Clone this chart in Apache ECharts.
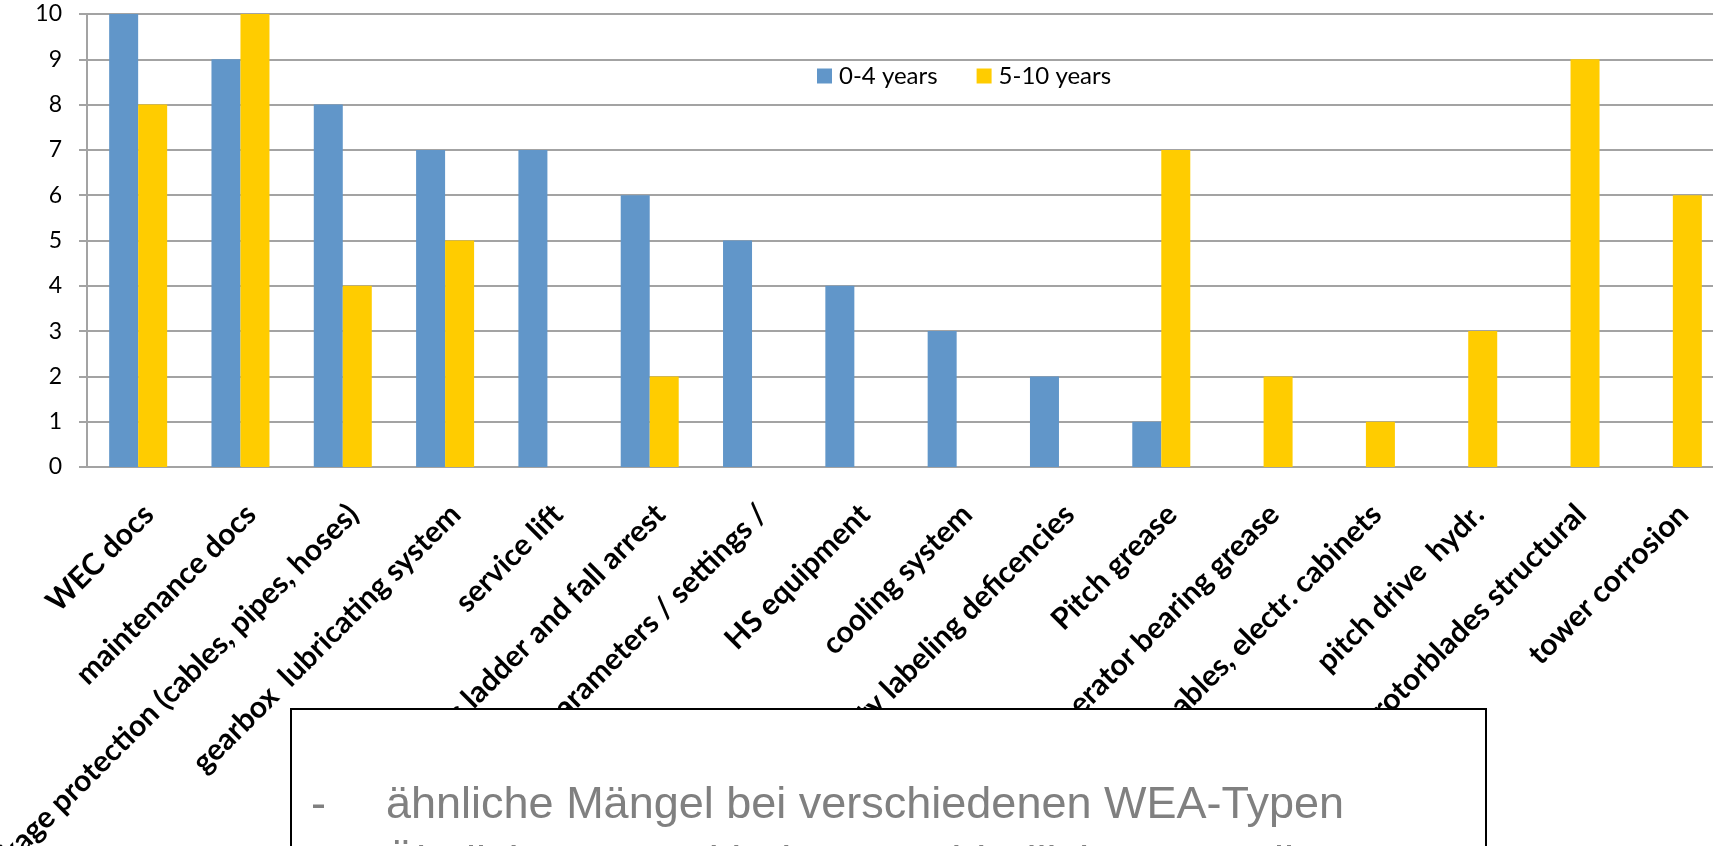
<!DOCTYPE html>
<html>
<head>
<meta charset="utf-8">
<script src="https://cdn.jsdelivr.net/npm/echarts@6/dist/echarts.min.js"></script>
<style>
  html, body { margin: 0; padding: 0; background: #fff; }
  #chart { width: 1713px; height: 846px; }
</style>
</head>
<body>
<div id="chart"></div>
<script>
// categories (hidden beginnings are covered by the text box)
var categories = [
    'WEC docs',
    'maintenance docs',
    'leakage protection (cables, pipes, hoses)',
    'gearbox  lubricating system',
    'service lift',
    'access ladder and fall arrest',
    'control parameters / settings /',
    'HS equipment',
    'cooling system',
    'safety labeling deficencies',
    'Pitch grease',
    'generator bearing grease',
    'cables, electr. cabinets',
    'pitch drive  hydr.',
    'rotorblades structural',
    'tower corrosion'
];
var seriesNames = ['0-4 years', '5-10 years'];
var young = [10, 9, 8, 7, 7, 6, 5, 4, 3, 2, 1, 0, 0, 0, 0, 0];
var old = [8, 10, 4, 5, 0, 2, 0, 0, 0, 0, 7, 2, 1, 3, 9, 6];
var yTicks = [0, 10, 1]; // min, max, interval
var boxLines = [
    'ähnliche Mängel bei verschiedenen WEA-Typen',
    'Ähnliche Mängel bei unterschiedlichen Betreibern?'
];

var chart = echarts.init(document.getElementById('chart'));
var grey = '#a3a3a3';
var boxFont = '45px "Liberation Sans", Arial, sans-serif';

var option = {
    animation: false,
    color: ['#6196c9', '#ffcc00'],
    grid: {
        left: 87,
        top: 14,
        width: 1637,
        height: 453,
        containLabel: false,
        outerBoundsMode: 'none'
    },
    legend: {
        data: seriesNames,
        left: 817,
        top: 64,
        padding: 0,
        icon: 'rect',
        itemWidth: 15,
        itemHeight: 15,
        itemGap: 39,
        textStyle: {
            fontFamily: 'Lato',
            fontSize: 24,
            color: '#000',
            padding: [0, 0, 0, 2]
        }
    },
    xAxis: {
        type: 'category',
        data: categories,
        axisLine: { lineStyle: { color: grey, width: 2 } },
        axisTick: { length: 9, lineStyle: { color: grey, width: 2 } },
        axisLabel: {
            interval: 0,
            rotate: 45,
            margin: 32,
            align: 'right',
            verticalAlign: 'top',
            fontFamily: 'Lato',
            fontWeight: 'bold',
            fontSize: 30,
            color: '#000'
        }
    },
    yAxis: {
        type: 'value',
        min: yTicks[0],
        max: yTicks[1],
        interval: yTicks[2],
        axisLine: { show: true, lineStyle: { color: grey, width: 2 } },
        axisTick: { show: true, length: 8, lineStyle: { color: grey, width: 2 } },
        splitLine: { lineStyle: { color: grey, width: 2 } },
        axisLabel: {
            margin: 25,
            fontFamily: 'Lato',
            fontSize: 23,
            color: '#000'
        }
    },
    series: [
        {
            name: seriesNames[0],
            type: 'bar',
            data: young,
            barWidth: 29,
            barGap: '0%'
        },
        {
            name: seriesNames[1],
            type: 'bar',
            data: old,
            barWidth: 29,
            barGap: '0%'
        }
    ],
    graphic: [
        {
            type: 'rect',
            z: 100,
            shape: { x: 291, y: 709, width: 1195, height: 200 },
            style: { fill: '#fff', stroke: '#000', lineWidth: 2 }
        },
        {
            type: 'text',
            z: 101,
            x: 311,
            y: 806,
            style: {
                text: '-',
                fill: '#808080',
                font: boxFont,
                verticalAlign: 'middle'
            }
        },
        {
            type: 'text',
            z: 101,
            x: 386,
            y: 806,
            style: {
                text: boxLines[0],
                fill: '#808080',
                font: boxFont,
                verticalAlign: 'middle'
            }
        },
        {
            type: 'text',
            z: 101,
            x: 386,
            y: 865,
            style: {
                text: boxLines[1],
                fill: '#808080',
                font: boxFont,
                verticalAlign: 'middle'
            }
        }
    ]
};
chart.setOption(option);
</script>
</body>
</html>
